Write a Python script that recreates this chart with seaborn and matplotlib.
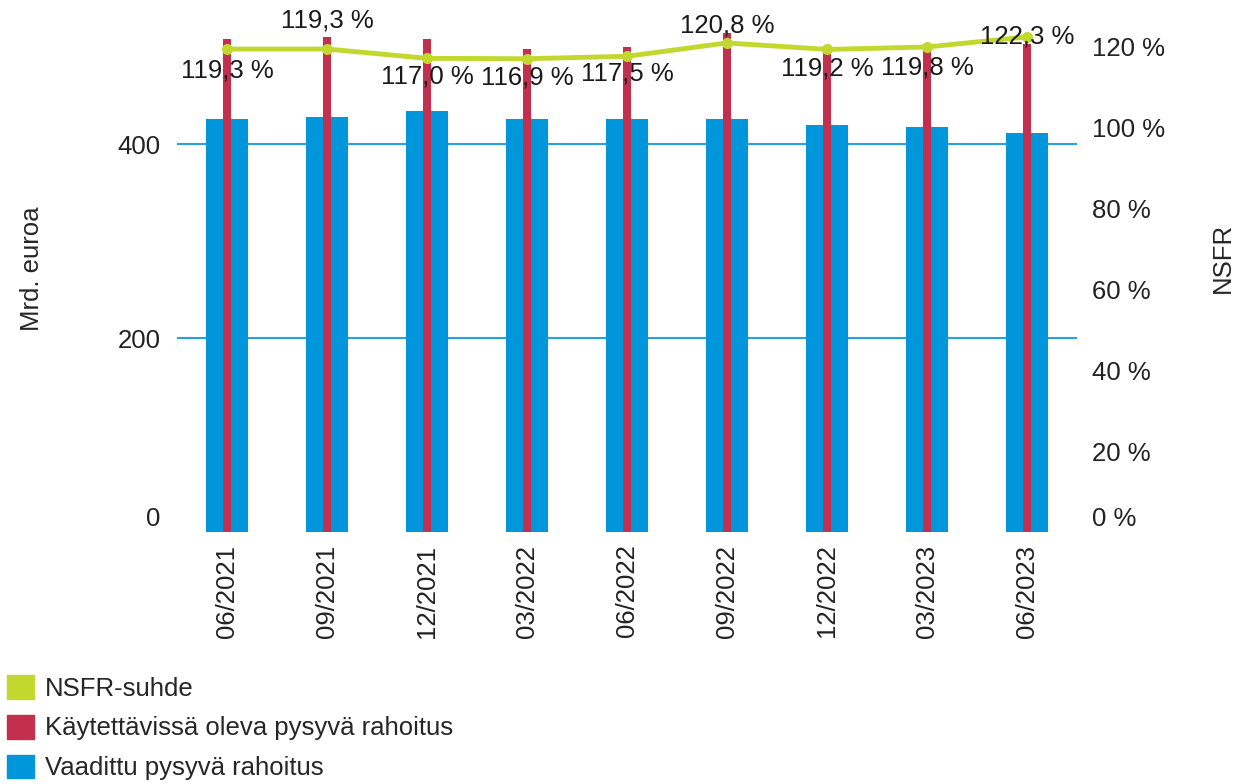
import numpy as np
import pandas as pd
import matplotlib
matplotlib.use("Agg")
import matplotlib.pyplot as plt
import matplotlib.transforms as mtransforms
from matplotlib.patches import Patch
import seaborn as sns

# --- data ---
kaudet = ["06/2021", "09/2021", "12/2021", "03/2022", "06/2022",
          "09/2022", "12/2022", "03/2023", "06/2023"]
kaytettavissa = [508, 510, 508, 498, 500, 515, 501, 501, 503]   # red, Mrd. euroa
vaadittu = [426, 428, 434, 426, 426, 426, 420, 418, 411]        # blue, Mrd. euroa
nsfr = [119.3, 119.3, 117.0, 116.9, 117.5, 120.8, 119.2, 119.8, 122.3]

# label placement (px offset from point, negative = above)
label_dy = [21, -29, 18, 19, 17, -17, 19, 21, 0]

VIHREA = "#C2D82E"
PUNAINEN = "#C3304F"
SININEN = "#0096DB"
FS = 18.5

sns.set_theme(style="white")
plt.rcParams["font.family"] = ["Liberation Sans", "DejaVu Sans"]
plt.rcParams["font.size"] = FS

df = pd.DataFrame({"kausi": kaudet, "kaytettavissa": kaytettavissa,
                   "vaadittu": vaadittu, "nsfr": nsfr})

fig = plt.figure(figsize=(12.4, 7.84), dpi=100)
ax = fig.add_axes([177 / 1240, 1 - 532 / 784, 900 / 1240, 512 / 784])

sns.barplot(data=df, x="kausi", y="vaadittu", color=SININEN, width=0.42,
            saturation=1, linewidth=0, ax=ax, zorder=2)
sns.barplot(data=df, x="kausi", y="kaytettavissa", color=PUNAINEN, width=0.08,
            saturation=1, linewidth=0, ax=ax, zorder=3)

ax.set_ylim(0, 528)
ax.set_xlim(-0.5, len(kaudet) - 0.5)
ax.set_yticks([0, 200, 400])
ax.yaxis.grid(True, color="#27A2DF", linewidth=1.5)
ax.set_axisbelow(True)
ax.get_ygridlines()[0].set_visible(False)
ax.set_xlabel("")
ax.set_ylabel("Mrd. euroa", fontsize=FS, labelpad=53)
ax.yaxis.label.set_y(0.5 + 7 / 512)
ax.tick_params(axis="y", length=0, pad=12, labelsize=FS, labelcolor="#222222")
ax.tick_params(axis="x", length=0, pad=9, labelsize=FS, labelrotation=90,
               labelcolor="#222222")
for s in ax.spines.values():
    s.set_visible(False)

# right axis: NSFR ratio
ax2 = ax.twinx()
x = np.arange(len(kaudet))
sns.lineplot(x=x, y=df["nsfr"], ax=ax2, color=VIHREA, linewidth=3.5,
             marker="o", markersize=8, markeredgewidth=0, zorder=5)
ax2.set_ylim(0, 528 / 4.175)
ax2.set_yticks(range(0, 121, 20))
ax2.set_yticklabels([f"{v} %" for v in range(0, 121, 20)])
ax2.set_ylabel("NSFR", fontsize=FS, labelpad=33, rotation=90)
ax2.yaxis.label.set_y(0.5 + 18 / 512)
ax2.tick_params(axis="y", length=0, pad=11, labelsize=FS, labelcolor="#222222")
for s in ax2.spines.values():
    s.set_visible(False)

for xi, v, dy in zip(x, nsfr, label_dy):
    ax2.annotate(f"{v:.1f} %".replace(".", ","), (xi, v), xytext=(0, -dy * 0.72),
                 textcoords="offset points", ha="center", va="center",
                 fontsize=FS, color="#1a1a1a", zorder=6)

# lift the "0" labels a bit like the original
lift = mtransforms.ScaledTranslation(0, 16 / 100, fig.dpi_scale_trans)
ax.get_yticklabels()[0].set_transform(ax.get_yticklabels()[0].get_transform() + lift)
ax2.get_yticklabels()[0].set_transform(ax2.get_yticklabels()[0].get_transform() + lift)

handles = [Patch(color=VIHREA, label="NSFR-suhde"),
           Patch(color=PUNAINEN, label="Käytettävissä oleva pysyvä rahoitus"),
           Patch(color=SININEN, label="Vaadittu pysyvä rahoitus")]
fig.legend(handles=handles, loc="upper left", bbox_to_anchor=(-0.009, 1 - 657 / 784),
           frameon=False, fontsize=FS, handlelength=1.05, handleheight=1.05,
           handletextpad=0.45, labelspacing=0.55, borderaxespad=0.3)

fig.savefig("out.png", dpi=100)
